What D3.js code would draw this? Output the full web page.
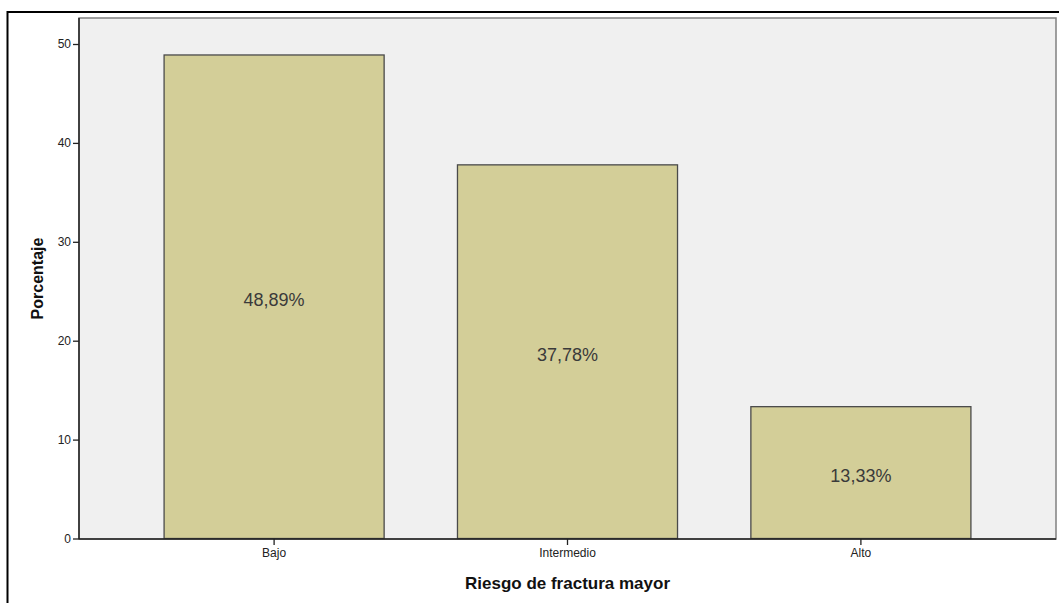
<!DOCTYPE html>
<html>
<head>
<meta charset="utf-8">
<script src="https://cdn.jsdelivr.net/npm/d3@7"></script>
<style>
  html, body { margin: 0; padding: 0; background: #fff; }
  svg { display: block; font-family: Arial, "Liberation Sans", sans-serif; }
</style>
</head>
<body>
<svg id="chart" width="1059" height="603"></svg>
<script>
const categories = ["Bajo", "Intermedio", "Alto"];
const values = [48.89, 37.78, 13.33];
const valueLabels = ["48,89%", "37,78%", "13,33%"];
const yTicks = [0, 10, 20, 30, 40, 50];
const xTitle = "Riesgo de fractura mayor";
const yTitle = "Porcentaje";

const svg = d3.select("#chart");
const plot = { left: 79, right: 1056, top: 18, bottom: 539 };

// outer frame (right/bottom edges lie outside the picture)
svg.append("rect")
  .attr("x", 7.5).attr("y", 12)
  .attr("width", 1070).attr("height", 620)
  .attr("fill", "none").attr("stroke", "#000").attr("stroke-width", 2);

// plot background
svg.append("rect")
  .attr("x", plot.left).attr("y", plot.top)
  .attr("width", plot.right - plot.left).attr("height", plot.bottom - plot.top)
  .attr("fill", "#f0f0f0")
  .attr("stroke", "#808080").attr("stroke-width", 1.5);

const x = d3.scaleBand()
  .domain(categories)
  .range([plot.left, plot.right])
  .paddingInner(0.25)
  .paddingOuter(0.29);

const y = d3.scaleLinear()
  .domain([0, 50])
  .range([plot.bottom - 0.5, 44]);

const data = categories.map((c, i) => ({ c, v: values[i], l: valueLabels[i] }));

svg.append("g").selectAll("rect")
  .data(data).join("rect")
  .attr("x", d => x(d.c))
  .attr("y", d => y(d.v))
  .attr("width", x.bandwidth())
  .attr("height", d => y(0) - y(d.v))
  .attr("fill", "#d3ce98")
  .attr("stroke", "#4a4a4a")
  .attr("stroke-width", 1.3);

svg.append("g").selectAll("text")
  .data(data).join("text")
  .attr("x", d => x(d.c) + x.bandwidth() / 2)
  .attr("y", d => (y(d.v) + y(0)) / 2 + 3)
  .attr("dy", "0.35em")
  .attr("text-anchor", "middle")
  .attr("font-size", 18)
  .attr("fill", "#3a3a3a")
  .text(d => d.l);

// y axis
const yAxis = svg.append("g")
  .attr("transform", `translate(${plot.left},0)`)
  .call(d3.axisLeft(y).tickValues(yTicks).tickSize(6).tickPadding(2));
yAxis.select(".domain").attr("stroke", "#222").attr("stroke-width", 1.5)
  .attr("d", `M0,${plot.top}V${plot.bottom}`);
yAxis.selectAll(".tick line").attr("stroke", "#222").attr("stroke-width", 1.3);
yAxis.selectAll(".tick text").attr("font-size", 12).attr("fill", "#222")
  .attr("font-family", "Arial, 'Liberation Sans', sans-serif");

// x axis
const xAxis = svg.append("g")
  .attr("transform", `translate(0,${plot.bottom})`)
  .call(d3.axisBottom(x).tickSize(6).tickPadding(3));
xAxis.select(".domain").attr("stroke", "#222").attr("stroke-width", 1.5)
  .attr("d", `M${plot.left},0H${plot.right}`);
xAxis.selectAll(".tick line").attr("stroke", "#222").attr("stroke-width", 1.3);
xAxis.selectAll(".tick text").attr("font-size", 12).attr("fill", "#222")
  .attr("font-family", "Arial, 'Liberation Sans', sans-serif");

// titles
svg.append("text")
  .attr("x", (plot.left + plot.right) / 2)
  .attr("y", 589)
  .attr("text-anchor", "middle")
  .attr("font-size", 17)
  .attr("font-weight", "bold")
  .attr("fill", "#111")
  .text(xTitle);

svg.append("text")
  .attr("transform", `translate(43,${(plot.top + plot.bottom) / 2}) rotate(-90)`)
  .attr("text-anchor", "middle")
  .attr("font-size", 16)
  .attr("font-weight", "bold")
  .attr("fill", "#111")
  .text(yTitle);
</script>
</body>
</html>
